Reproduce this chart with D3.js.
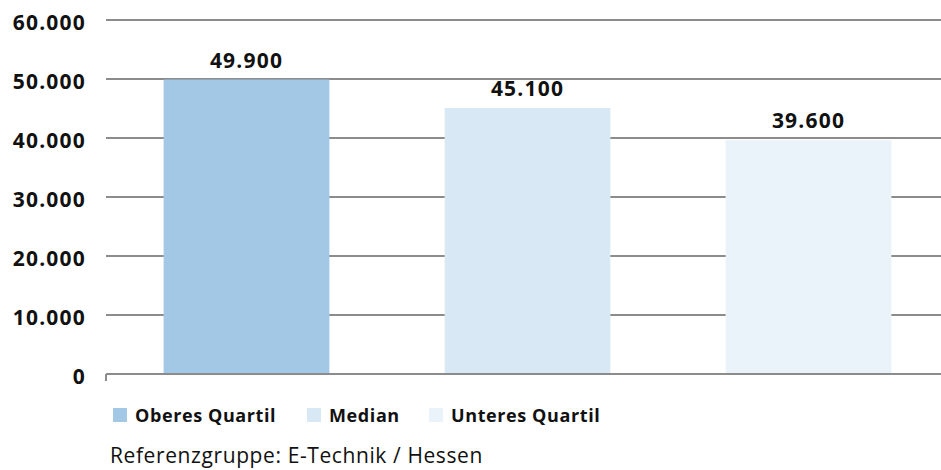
<!DOCTYPE html>
<html>
<head>
<script src="https://cdn.jsdelivr.net/npm/d3@7"></script>
<style>
body { margin: 0; background: white; }
text { font-family: "Open Sans", "DejaVu Sans", sans-serif; fill: #111; }
text.tick { font-weight: bold; font-size: 21px; letter-spacing: 1.2px; text-anchor: end; }
text.value { font-weight: bold; font-size: 21px; letter-spacing: 1.2px; text-anchor: middle; }
text.legend { font-weight: bold; font-size: 18px; letter-spacing: 0.6px; }
text.note { font-size: 21px; letter-spacing: 0.6px; }
</style>
</head>
<body>
<script>

var categories = ["Oberes Quartil", "Median", "Unteres Quartil"];
var values = [49900, 45100, 39600];
var colors = ["#a2c8e6", "#d9e8f5", "#eaf2fa"];
var yTicks = [0, 10000, 20000, 30000, 40000, 50000, 60000];
var note = "Referenzgruppe: E-Technik / Hessen";

var w = 941, h = 470;

var svg = d3.select("body").append("svg")
	.attr("width", w)
	.attr("height", h);

var x = d3.scaleBand().domain(categories).range([106, 949]).paddingInner(0.41).paddingOuter(0.205);
var y = d3.scaleLinear().domain([0, 60000]).range([374, 20]);

function fmt(v) {
	return d3.format(",")(v).replace(/,/g, ".");
}

// gridlines
svg.selectAll("line.grid").data(yTicks.filter(function(d) { return d > 0; })).enter()
	.append("line").attr("class", "grid")
	.attr("x1", 106).attr("x2", w)
	.attr("y1", function(d) { return y(d); })
	.attr("y2", function(d) { return y(d); })
	.style("stroke", "#8c8c8c").style("stroke-width", 2);

// tick labels
svg.selectAll("text.tick").data(yTicks).enter()
	.append("text").attr("class", "tick")
	.attr("x", 86)
	.attr("y", function(d) { return y(d) + 10; })
	.text(function(d) { return fmt(d); });

// bars
svg.selectAll("rect.bar").data(values).enter()
	.append("rect").attr("class", "bar")
	.attr("x", function(d, i) { return x(categories[i]); })
	.attr("y", function(d) { return y(d); })
	.attr("width", x.bandwidth())
	.attr("height", function(d) { return y(0) - y(d); })
	.style("fill", function(d, i) { return colors[i]; });

// base axis
svg.append("line")
	.attr("x1", 106).attr("x2", w).attr("y1", y(0)).attr("y2", y(0))
	.style("stroke", "#8c8c8c").style("stroke-width", 2);
svg.append("line")
	.attr("x1", 106).attr("x2", 106).attr("y1", y(0)).attr("y2", y(0) + 7)
	.style("stroke", "#8c8c8c").style("stroke-width", 2);

// value labels
svg.selectAll("text.value").data(values).enter()
	.append("text").attr("class", "value")
	.attr("x", function(d, i) { return x(categories[i]) + x.bandwidth() / 2; })
	.attr("y", function(d) { return y(d) - 12; })
	.text(function(d) { return fmt(d); });

// legend
var legendX = [113, 307, 429];
var lg = svg.selectAll("g.legend").data(categories).enter()
	.append("g").attr("class", "legend")
	.attr("transform", function(d, i) { return "translate(" + legendX[i] + ",408)"; });
lg.append("rect").attr("width", 14).attr("height", 14)
	.style("fill", function(d, i) { return colors[i]; });
lg.append("text").attr("class", "legend")
	.attr("x", 22).attr("y", 14)
	.text(function(d) { return d; });

svg.append("text").attr("class", "note")
	.attr("x", 110).attr("y", 463)
	.text(note);

</script>
</body>
</html>
